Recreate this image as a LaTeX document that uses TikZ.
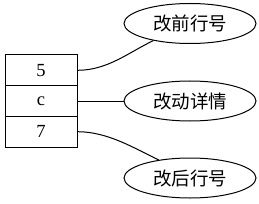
\documentclass[tikz,border=0pt]{standalone}
\usepackage{fontspec}
\setmainfont{Liberation Serif}
\newfontfamily\cjk{Noto Sans CJK SC}
\usetikzlibrary{shapes.geometric}
\tikzset{
  cell/.style={draw, line width=1pt, minimum width=72pt, minimum height=30.7pt, inner sep=0pt, font=\fontsize{18.5}{20}\selectfont},
  oval/.style={draw, ellipse, line width=1pt, minimum width=132pt, minimum height=40pt, inner sep=0pt, font=\cjk\fontsize{18.5}{20}\selectfont},
  link/.style={line width=1pt}
}
\begin{document}
\begin{tikzpicture}[x=1pt,y=-1pt]
\useasboundingbox (0,0) rectangle (259,203);
\node[cell] (r1) at (41,70.3) {5};
\node[cell] (r2) at (41,101) {c};
\node[cell] (r3) at (41,131.7) {7};
\node[oval] (e1) at (190,23.5) {改前行号};
\node[oval] (e2) at (190,101) {改动详情};
\node[oval] (e3) at (190,178) {改后行号};
\draw[link] (r1.east) .. controls +(30,0) and +(-25,12) .. (e1.205);
\draw[link] (r2.east) -- (e2.west);
\draw[link] (r3.east) .. controls +(30,0) and +(-25,-12) .. (e3.150);
\end{tikzpicture}
\end{document}
